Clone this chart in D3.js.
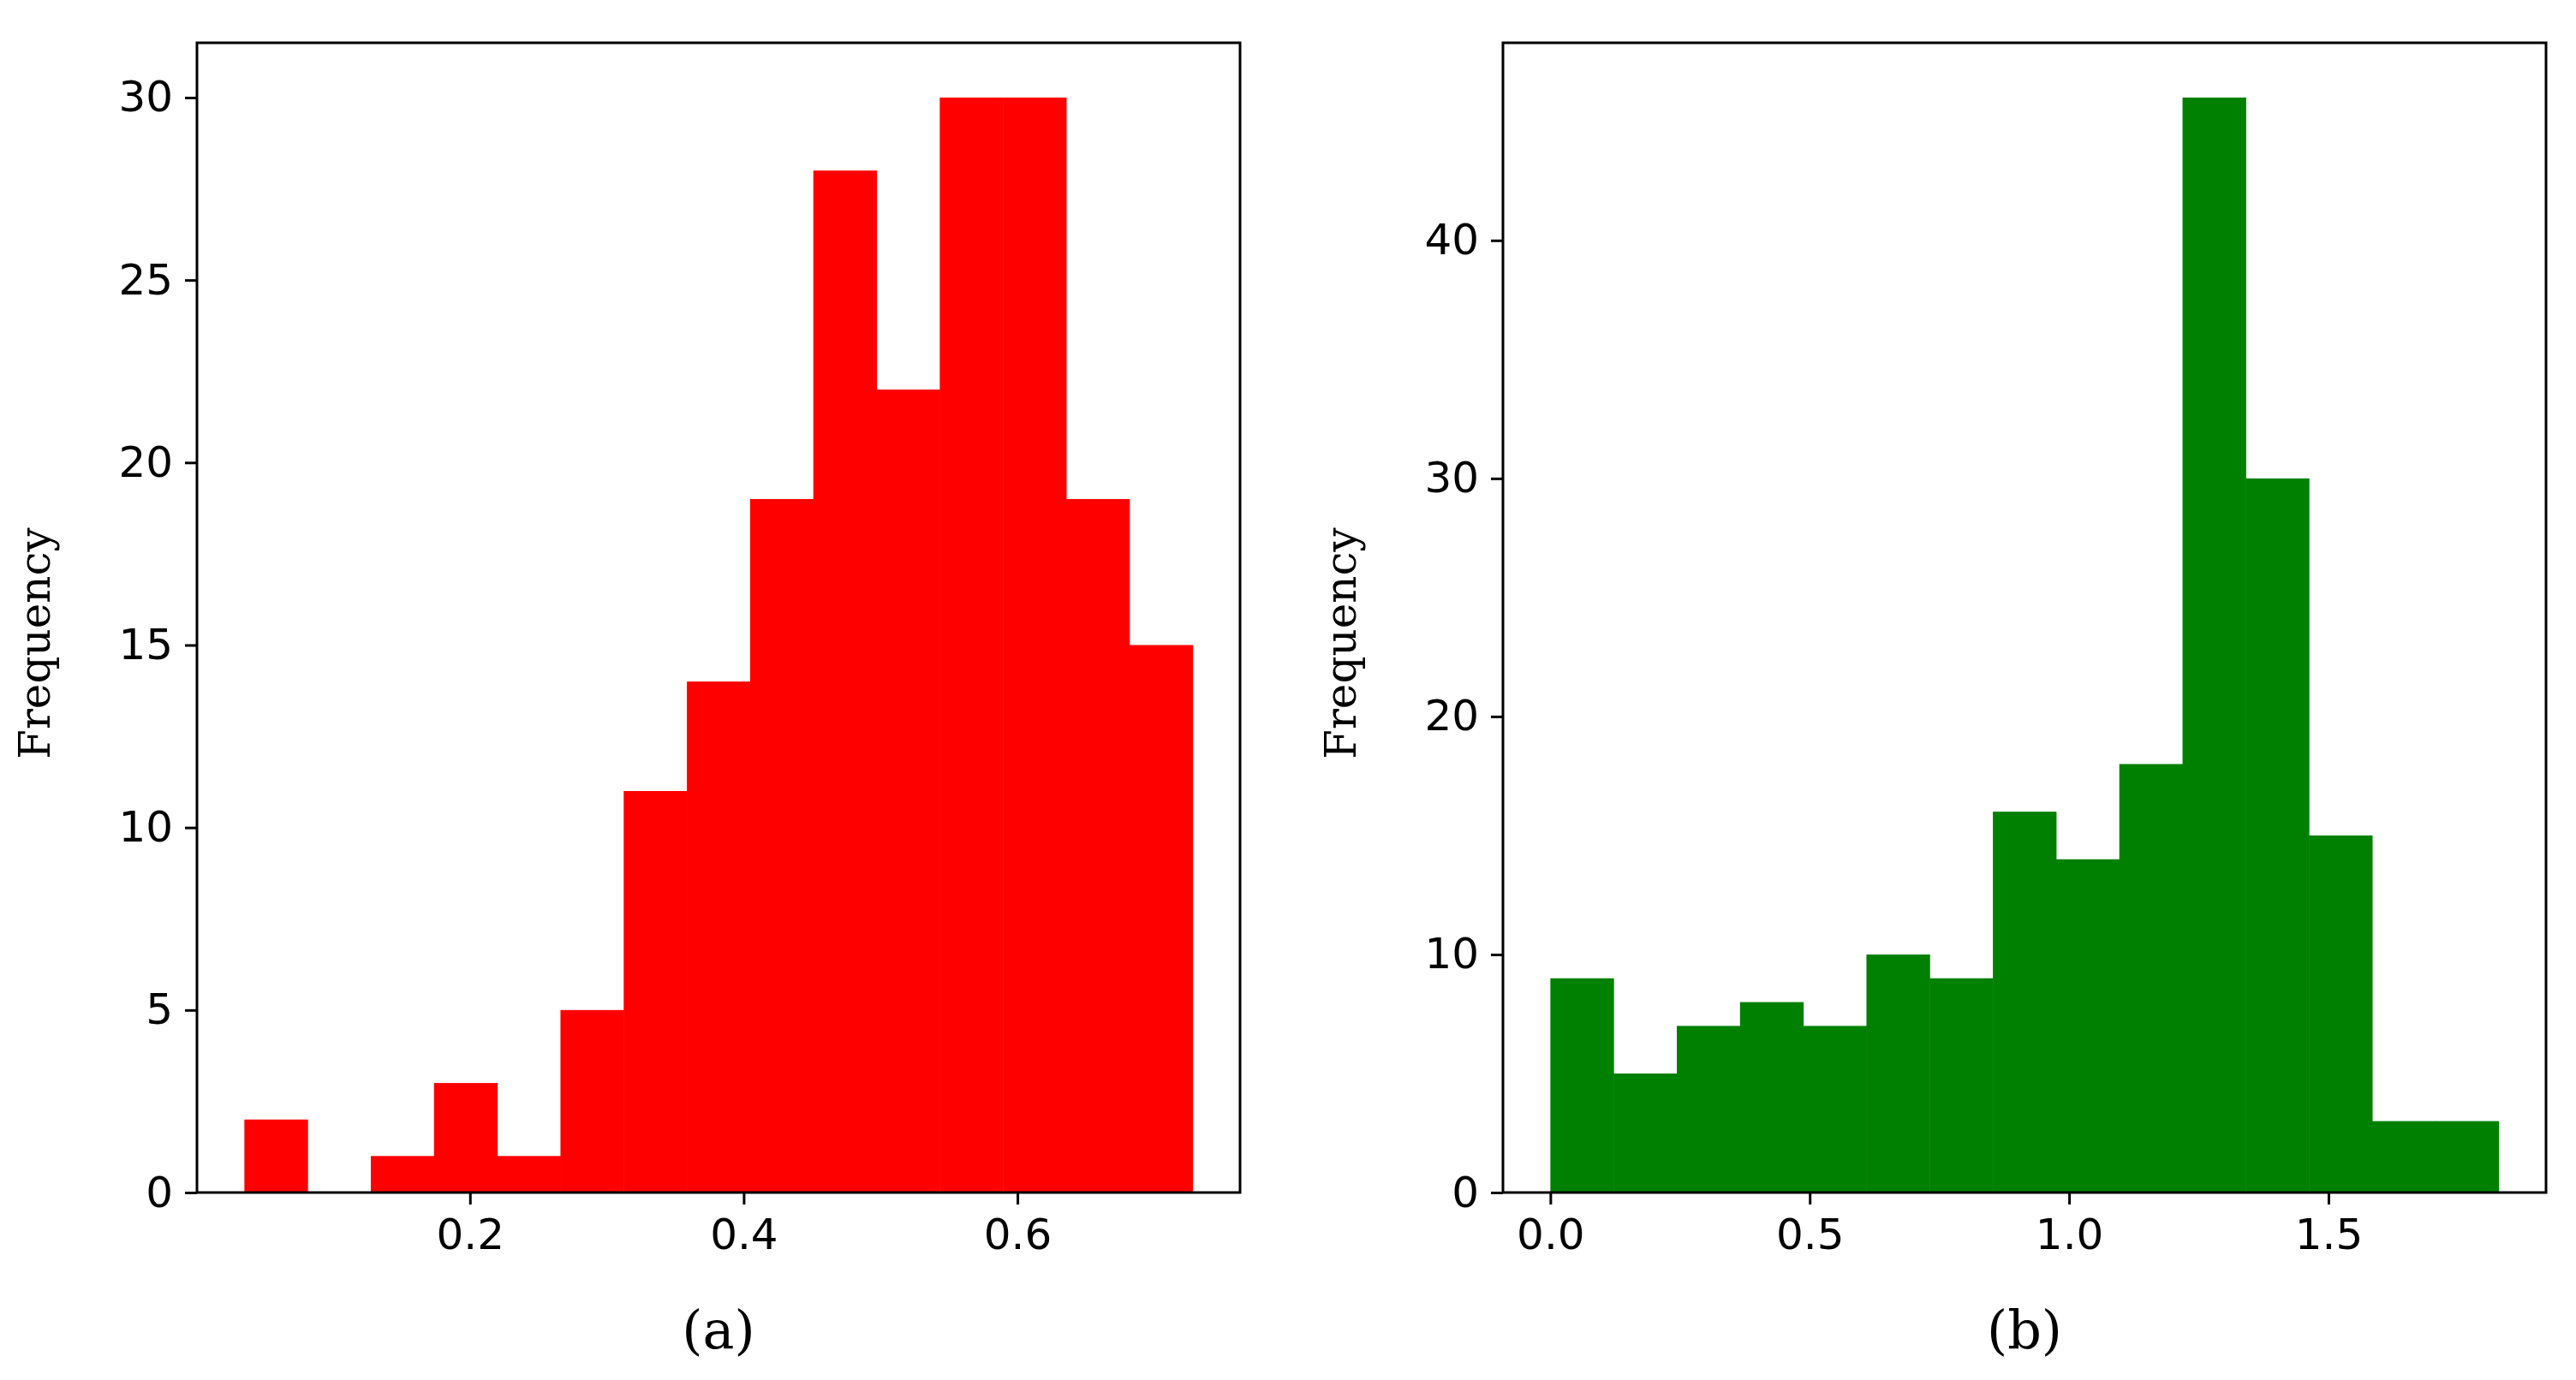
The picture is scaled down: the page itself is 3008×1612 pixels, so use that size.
<!DOCTYPE html>
<html>
<head>
<meta charset="utf-8">
<script src="https://cdn.jsdelivr.net/npm/d3@7"></script>
<style>
body{margin:0;background:#fff}
svg{display:block}
.tick text{font-family:"DejaVu Sans";font-size:50px;fill:#000}
</style>
</head>
<body>
<svg id="chart" width="3008" height="1612"></svg>
<script>
// panel (a)
let countsA=[2,0,1,3,1,5,11,14,19,28,22,30,30,19,15]
let rangeA=[0.0352,0.728]
let xTicksA=[0.2,0.4,0.6]
let yTicksA=[0,5,10,15,20,25,30]
// panel (b)
let countsB=[9,5,7,8,7,10,9,16,14,18,46,30,15,3,3]
let rangeB=[0,1.828]
let xTicksB=[0,0.5,1.0,1.5]
let yTicksB=[0,10,20,30,40]

let svg=d3.select('#chart')

let drawPanel = (counts,range,xTicks,yTicks,left,right,color,label,xFmt) => {
    let top=50,bottom=1393
    let pad=(range[1]-range[0])*0.05
    let x=d3.scaleLinear().domain([range[0]-pad,range[1]+pad]).range([left,right])
    let ymax=d3.max(counts)*1.05
    let y=d3.scaleLinear().domain([0,ymax]).range([bottom,top])
    let w=(range[1]-range[0])/counts.length
    let bins=counts.map((c,i)=>({x0:range[0]+i*w,x1:range[0]+(i+1)*w,c:c}))

    let g=svg.append('g')
    g.selectAll('rect.bar').data(bins).enter().append('rect')
        .attr('class','bar')
        .attr('x',d=>x(d.x0))
        .attr('width',d=>x(d.x1)-x(d.x0)+0.5)
        .attr('y',d=>y(d.c))
        .attr('height',d=>bottom-y(d.c))
        .attr('fill',color)

    let xAxis=d3.axisBottom(x).tickValues(xTicks).tickFormat(xFmt).tickSize(14).tickPadding(16)
    let yAxis=d3.axisLeft(y).tickValues(yTicks).tickFormat(d3.format('d')).tickSize(14).tickPadding(14)
    let gx=g.append('g').attr('transform','translate(0,'+bottom+')').call(xAxis)
    let gy=g.append('g').attr('transform','translate('+left+',0)').call(yAxis)
    gx.select('.domain').remove()
    gy.select('.domain').remove()
    g.selectAll('.tick line').attr('stroke','#000').attr('stroke-width',3)

    g.append('rect')
        .attr('x',left).attr('y',top)
        .attr('width',right-left).attr('height',bottom-top)
        .attr('fill','none').attr('stroke','#000').attr('stroke-width',3)

    g.append('text')
        .attr('transform','translate('+(left-172)+','+((top+bottom)/2+30)+') rotate(-90)')
        .attr('text-anchor','middle')
        .attr('font-family','DejaVu Serif').attr('font-size',50)
        .text('Frequency')

    g.append('text')
        .attr('x',(left+right)/2).attr('y',1575)
        .attr('text-anchor','middle')
        .attr('font-family','DejaVu Serif').attr('font-size',62)
        .text(label)
}

drawPanel(countsA,rangeA,xTicksA,yTicksA,230,1448,'#ff0000','(a)',d3.format('.1f'))
drawPanel(countsB,rangeB,xTicksB,yTicksB,1755,2973,'#008000','(b)',d3.format('.1f'))
</script>
</body>
</html>
